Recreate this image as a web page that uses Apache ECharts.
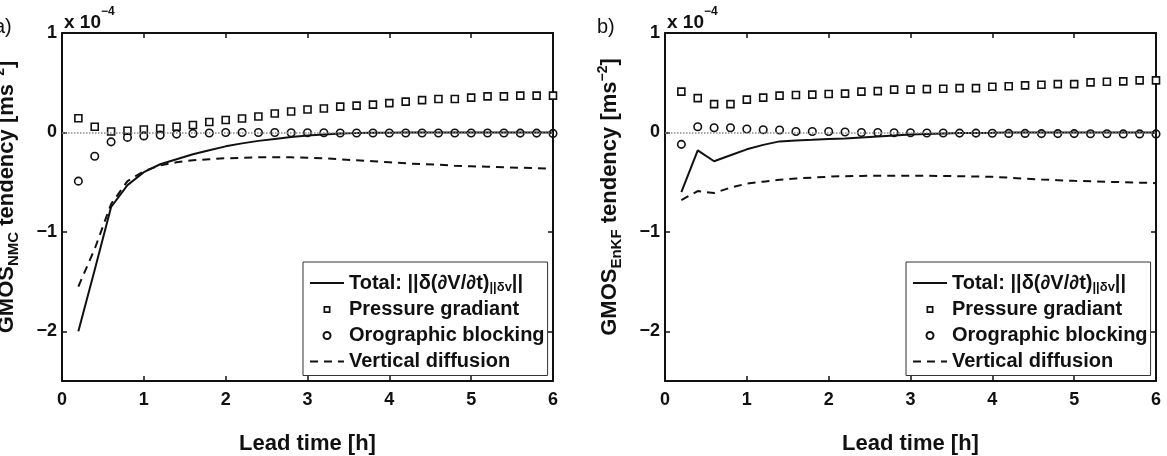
<!DOCTYPE html>
<html lang="en">

<head>
  <meta charset="UTF-8">
  <title>GMOS tendency</title>
  <style>
    html, body { margin: 0; padding: 0; background: #fff; }
    #chart { width: 1167px; height: 456px; }
  </style>
</head>

<body>
  <div id="chart"></div>
  <script src="https://cdn.jsdelivr.net/npm/echarts@6.0.0/dist/echarts.min.js"></script>
  <script>
    // lead time [h], one value every 12 min
    var leadTime = [0.2, 0.4, 0.6, 0.8, 1.0, 1.2, 1.4, 1.6, 1.8, 2.0, 2.2, 2.4, 2.6, 2.8, 3.0,
      3.2, 3.4, 3.6, 3.8, 4.0, 4.2, 4.4, 4.6, 4.8, 5.0, 5.2, 5.4, 5.6, 5.8, 6.0];

    // panel a) NMC, values in 1e-4 m s^-2
    var totalNMC = [-2.0, -1.38, -0.75, -0.53, -0.40, -0.32, -0.27, -0.22, -0.18, -0.14, -0.11, -0.085, -0.065, -0.045, -0.03,
      -0.02, -0.012, -0.007, -0.004, -0.002, 0, 0, 0, 0, 0, 0, 0, 0, 0, 0];
    var pressureNMC = [0.143, 0.057, 0.01, 0.017, 0.03, 0.04, 0.057, 0.074, 0.105, 0.125, 0.14, 0.16, 0.19, 0.21, 0.23,
      0.24, 0.26, 0.27, 0.28, 0.295, 0.31, 0.325, 0.336, 0.336, 0.35, 0.363, 0.363, 0.37, 0.37, 0.37];
    var orographicNMC = [-0.49, -0.24, -0.095, -0.05, -0.035, -0.027, -0.017, -0.01, -0.005, 0, 0, 0, 0, -0.003, -0.003,
      -0.003, -0.005, -0.005, -0.005, -0.005, -0.005, -0.005, -0.005, -0.005, -0.005, -0.005, -0.005, -0.007, -0.007, -0.01];
    var verticalNMC = [-1.55, -1.17, -0.72, -0.49, -0.39, -0.33, -0.30, -0.28, -0.27, -0.26, -0.255, -0.25, -0.25, -0.25, -0.255,
      -0.26, -0.27, -0.28, -0.29, -0.30, -0.31, -0.32, -0.325, -0.335, -0.34, -0.345, -0.35, -0.355, -0.36, -0.365];

    // panel b) EnKF
    var totalEnKF = [-0.60, -0.18, -0.29, -0.23, -0.17, -0.125, -0.09, -0.08, -0.074, -0.067, -0.06, -0.05, -0.04, -0.03, -0.02,
      -0.015, -0.01, -0.007, -0.005, -0.003, 0, 0, 0, 0, 0, 0, 0, 0, 0, 0];
    var pressureEnKF = [0.41, 0.345, 0.285, 0.285, 0.33, 0.35, 0.37, 0.376, 0.38, 0.386, 0.39, 0.41, 0.415, 0.43, 0.43,
      0.436, 0.44, 0.446, 0.446, 0.46, 0.465, 0.473, 0.48, 0.486, 0.486, 0.503, 0.51, 0.513, 0.524, 0.524];
    var orographicEnKF = [-0.12, 0.057, 0.047, 0.047, 0.034, 0.027, 0.025, 0.01, 0.01, 0.01, 0.005, 0, 0, -0.003, -0.003,
      -0.005, -0.005, -0.007, -0.007, -0.008, -0.01, -0.01, -0.012, -0.012, -0.012, -0.013, -0.013, -0.015, -0.015, -0.015];
    var verticalEnKF = [-0.68, -0.59, -0.61, -0.555, -0.515, -0.495, -0.475, -0.463, -0.455, -0.445, -0.44, -0.437, -0.435, -0.435, -0.435,
      -0.436, -0.438, -0.44, -0.443, -0.447, -0.455, -0.465, -0.473, -0.48, -0.487, -0.492, -0.497, -0.50, -0.505, -0.51];

    var xTicks = [0, 1, 2, 3, 4, 5, 6];
    var yTicks = [-2, -1, 0, 1];
    var seriesNames = ['Total', 'Pressure gradiant', 'Orographic blocking', 'Vertical diffusion'];

    var FONT = '"Liberation Sans", Arial, Helvetica, "DejaVu Sans", sans-serif';
    var INK = '#111';

    function pairs(ys) {
      return leadTime.map(function (x, i) { return [x, ys[i]]; });
    }

    // bottom x axis with labels + top copy, left y axis with labels + right copy (boxed, ticks inside)
    function makeXAxes(gi) {
      var base = {
        gridIndex: gi, type: 'value', min: 0, max: 6, interval: 1,
        axisLine: { show: true, onZero: false, lineStyle: { color: INK, width: 2 } },
        axisTick: { show: true, inside: true, length: 5, lineStyle: { color: INK, width: 1.5 } },
        splitLine: { show: false }
      };
      var bottom = Object.assign({}, base, {
        position: 'bottom',
        axisLabel: { margin: 10, fontSize: 18, fontWeight: 'bold', color: INK, fontFamily: FONT,
          customValues: xTicks },
        name: 'Lead time [h]', nameLocation: 'middle', nameGap: 52,
        nameTextStyle: { fontSize: 22, fontWeight: 'bold', color: INK, fontFamily: FONT }
      });
      var top = Object.assign({}, base, { position: 'top', axisLabel: { show: false } });
      return [bottom, top];
    }

    function makeYAxes(gi, sub) {
      var base = {
        gridIndex: gi, type: 'value', min: -2.5, max: 1,
        axisLine: { show: true, onZero: false, lineStyle: { color: INK, width: 2 } },
        axisTick: { show: true, inside: true, length: 5, customValues: yTicks, lineStyle: { color: INK, width: 1.5 } },
        splitLine: { show: false }
      };
      var left = Object.assign({}, base, {
        position: 'left',
        axisLabel: {
          margin: 5, fontSize: 18, fontWeight: 'bold', color: INK, fontFamily: FONT, customValues: yTicks,
          formatter: function (v) { return v < 0 ? '\u2212' + Math.abs(v) : String(v); }
        },
        name: '{m|GMOS}{s|' + sub + '}{m| tendency [ms}{p|\u22122}{m|]}',
        nameLocation: 'middle', nameRotate: 90, nameGap: 41,
        nameTextStyle: {
          padding: [0, 0, 0, 20],
          rich: {
            m: { fontSize: 22, fontWeight: 'bold', color: INK, fontFamily: FONT, lineHeight: 28, verticalAlign: 'middle' },
            s: { fontSize: 15, fontWeight: 'bold', color: INK, fontFamily: FONT, lineHeight: 12, verticalAlign: 'bottom' },
            p: { fontSize: 14, fontWeight: 'bold', color: INK, fontFamily: FONT, lineHeight: 12, verticalAlign: 'top' }
          }
        }
      });
      var right = Object.assign({}, base, { position: 'right', axisLabel: { show: false } });
      return [left, right];
    }

    function makeSeries(gi, total, pressure, orographic, vertical) {
      var ax = { xAxisIndex: gi * 2, yAxisIndex: gi * 2 };
      return [
        Object.assign({
          name: seriesNames[0], type: 'line', data: pairs(total), symbol: 'none', z: 3,
          lineStyle: { color: INK, width: 2 }, itemStyle: { color: INK },
          markLine: {
            silent: true, symbol: ['none', 'none'], label: { show: false },
            lineStyle: { color: '#8a8a8a', type: 'dotted', width: 1.5 },
            data: [{ yAxis: 0 }]
          }
        }, ax),
        Object.assign({
          name: seriesNames[1], type: 'scatter', data: pairs(pressure), symbol: 'rect', symbolSize: 7, z: 4,
          itemStyle: { color: '#fff', borderColor: INK, borderWidth: 1.6, opacity: 1 }
        }, ax),
        Object.assign({
          name: seriesNames[2], type: 'scatter', data: pairs(orographic), symbol: 'circle', symbolSize: 7.5, z: 4,
          itemStyle: { color: 'rgba(255,255,255,0)', borderColor: INK, borderWidth: 1.6, opacity: 1 }
        }, ax),
        Object.assign({
          name: seriesNames[3], type: 'line', data: pairs(vertical), symbol: 'none', z: 3,
          lineStyle: { color: INK, width: 2, type: [8, 6] }, itemStyle: { color: INK }
        }, ax)
      ];
    }

    function makeLegend(left) {
      var t = { fontSize: 20, fontWeight: 'bold', color: INK, fontFamily: FONT, lineHeight: 21 };
      return {
        left: left, top: 262, orient: 'vertical', align: 'left',
        backgroundColor: '#fff', borderColor: '#333', borderWidth: 1, borderRadius: 0,
        padding: [11, 3, 4, 6], itemGap: 6, itemWidth: 34, itemHeight: 7,
        symbolKeepAspect: true,
        selectedMode: false,
        data: [
          // line entries: hide the dot that ECharts puts on line icons
          { name: seriesNames[0], itemStyle: { opacity: 0 } },
          // hollow square drawn as a path so it keeps its aspect
          { name: seriesNames[1], icon: 'path://M0,0h7v7h-7zM1.7,1.7v3.6h3.6v-3.6z', itemStyle: { color: INK, borderWidth: 0 } },
          { name: seriesNames[2] },
          { name: seriesNames[3], itemStyle: { opacity: 0 } }
        ],
        formatter: function (name) {
          if (name === 'Total') return '{T|Total: ||\u03b4(\u2202V/\u2202t)}{s|||\u03b4v}{T|||}';
          return '{t|' + name + '}';
        },
        textStyle: {
          color: INK, fontFamily: FONT, fontWeight: 'bold', fontSize: 20,
          rich: {
            t: t,
            T: Object.assign({}, t, { verticalAlign: 'middle' }),
            s: { fontSize: 13, fontWeight: 'bold', color: INK, fontFamily: FONT, lineHeight: 14, verticalAlign: 'bottom' }
          }
        }
      };
    }

    function panelText(x, label) {
      return [
        { type: 'text', left: x - 6, top: 17, style: { text: label, font: '20px ' + FONT, fill: INK } },
        {
          type: 'text', left: x + 64, top: 6,
          style: {
            text: '{a|x 10}{b|\u22124}',
            rich: {
              a: { fontSize: 19, fontWeight: 'bold', fill: INK, fontFamily: FONT, lineHeight: 26, verticalAlign: 'bottom' },
              b: { fontSize: 12, fontWeight: 'bold', fill: INK, fontFamily: FONT, lineHeight: 14, verticalAlign: 'top' }
            }
          }
        }
      ];
    }

    var chart = echarts.init(document.getElementById('chart'), null, { renderer: 'canvas' });
    var option = {
      animation: false,
      backgroundColor: '#fff',
      // fixed plot boxes; do not let the labels push the grid around
      grid: [
        { left: 62, top: 33, width: 491, height: 348, outerBoundsMode: 'none', containLabel: false },
        { left: 665, top: 33, width: 491, height: 348, outerBoundsMode: 'none', containLabel: false }
      ],
      xAxis: makeXAxes(0).concat(makeXAxes(1)),
      yAxis: makeYAxes(0, 'NMC').concat(makeYAxes(1, 'EnKF')),
      legend: [makeLegend(303), makeLegend(906)],
      graphic: panelText(0, 'a)').concat(panelText(603, 'b)')),
      series: makeSeries(0, totalNMC, pressureNMC, orographicNMC, verticalNMC)
        .concat(makeSeries(1, totalEnKF, pressureEnKF, orographicEnKF, verticalEnKF))
    };
    chart.setOption(option);
  </script>
</body>

</html>
